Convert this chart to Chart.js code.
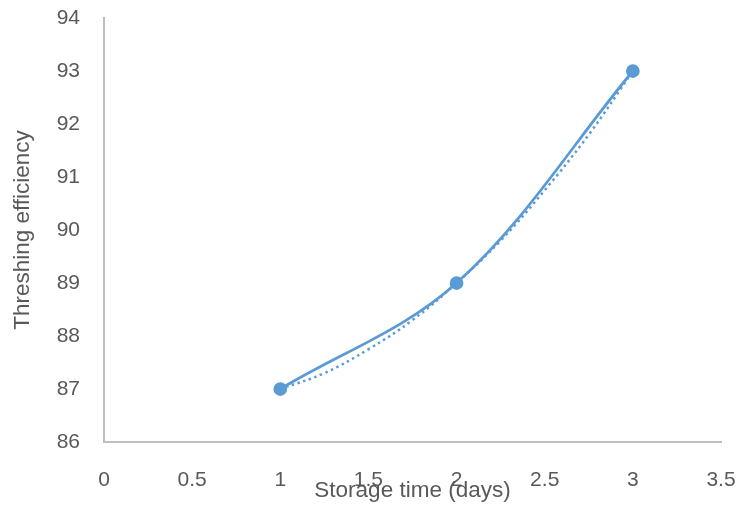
<!DOCTYPE html>
<html>
<head>
<meta charset="utf-8">
<script src="https://cdn.jsdelivr.net/npm/chart.js@4/dist/chart.umd.min.js"></script>
<style>
  html, body { margin: 0; padding: 0; background: #fff; }
  #wrap { width: 736px; height: 505px; position: relative; }
</style>
</head>
<body>
<div id="wrap"><canvas id="c" width="736" height="505"></canvas></div>
<script>
// Data
const storageDays = [1, 2, 3];
const threshingEfficiency = [87, 89, 93];
// Dotted trendline
const trendDays = [1, 1.25, 1.5, 1.75, 2, 2.25, 2.5, 2.75, 3];
const trendValues = [87, 87.3, 87.75, 88.3, 89, 89.8, 90.75, 91.8, 93];
const xTitle = 'Storage time (days)';
const yTitle = 'Threshing efficiency';

const BLUE = '#5b9bd5';
const TEXT = '#595959';
const AXIS = '#bfbfbf';
const FONT = "'Liberation Sans', Arial, sans-serif";

const mainPts = storageDays.map((d, i) => ({ x: d, y: threshingEfficiency[i] }));
const trendPts = trendDays.map((d, i) => ({ x: d, y: trendValues[i] }));

const titlesPlugin = {
  id: 'axisTitles',
  afterDraw(chart) {
    const ctx = chart.ctx;
    const a = chart.chartArea;
    ctx.save();
    ctx.fillStyle = TEXT;
    ctx.font = "22.5px " + FONT;
    ctx.textAlign = 'center';
    ctx.textBaseline = 'alphabetic';
    ctx.fillText(xTitle, (a.left + a.right) / 2, 497);
    ctx.translate(29, (a.top + a.bottom) / 2);
    ctx.rotate(-Math.PI / 2);
    ctx.fillText(yTitle, 0, 0);
    ctx.restore();
  }
};

new Chart(document.getElementById('c'), {
  type: 'line',
  data: {
    datasets: [
      {
        data: mainPts,
        borderColor: BLUE,
        backgroundColor: BLUE,
        borderWidth: 2.75,
        tension: 0.35,
        pointRadius: 5.5,
        pointHoverRadius: 5.5,
        pointBackgroundColor: BLUE,
        pointBorderColor: BLUE,
        fill: false,
        order: 0
      },
      {
        data: trendPts,
        borderColor: BLUE,
        borderWidth: 2.5,
        borderDash: [2.5, 3.5],
        tension: 0.4,
        pointRadius: 0,
        fill: false,
        order: 1
      }
    ]
  },
  options: {
    responsive: false,
    animation: false,
    devicePixelRatio: 1,
    layout: { padding: { left: 0, right: 15, top: 18, bottom: 0 } },
    plugins: { legend: { display: false }, tooltip: { enabled: false } },
    scales: {
      x: {
        type: 'linear',
        min: 0,
        max: 3.5,
        afterFit(s) { s.height = 63; s.paddingLeft = 0; s.paddingRight = 0; },
        grid: { display: false, drawTicks: false },
        border: { display: true, color: AXIS, width: 2 },
        ticks: {
          stepSize: 0.5,
          color: TEXT,
          padding: 26,
          font: { family: FONT, size: 21 },
          maxRotation: 0,
          autoSkip: false,
          callback: (v) => String(v)
        }
      },
      y: {
        type: 'linear',
        min: 86,
        max: 94,
        afterFit(s) { s.width = 104; s.paddingTop = 0; s.paddingBottom = 0; },
        grid: { display: false, drawTicks: false },
        border: { display: true, color: AXIS, width: 2 },
        ticks: {
          stepSize: 1,
          color: TEXT,
          padding: 24,
          font: { family: FONT, size: 21 },
          callback: (v) => String(v)
        }
      }
    }
  },
  plugins: [titlesPlugin]
});
</script>
</body>
</html>
